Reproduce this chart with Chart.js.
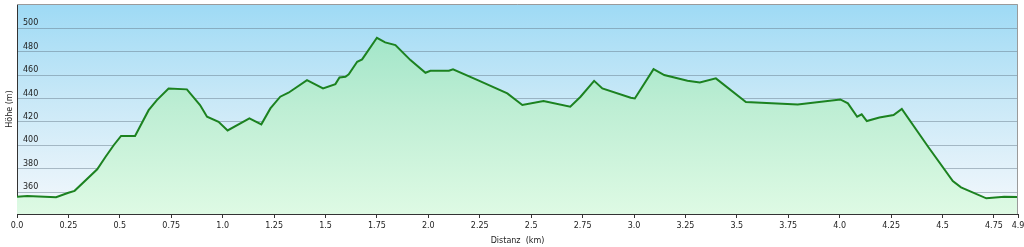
<!DOCTYPE html>
<html>
<head>
<meta charset="utf-8">
<script src="https://cdn.jsdelivr.net/npm/chart.js@4"></script>
<style>
  html, body { margin: 0; padding: 0; background: #fff; }
  #wrap { width: 1024px; height: 247px; }
</style>
</head>
<body>
<div id="wrap"><canvas id="perfil"></canvas></div>
<script>
// --- Datos ---
const distanciaKm = [0, 0.05, 0.19, 0.25, 0.28, 0.39, 0.43, 0.47, 0.506, 0.574, 0.64, 0.68, 0.737, 0.826,
  0.89, 0.924, 0.98, 1.024, 1.13, 1.188, 1.232, 1.28, 1.32, 1.41, 1.488, 1.548, 1.568, 1.597, 1.613,
  1.654, 1.678, 1.75, 1.79, 1.84, 1.913, 1.986, 2.01, 2.1, 2.12, 2.24, 2.384, 2.457, 2.56, 2.69, 2.74,
  2.806, 2.846, 2.984, 3.004, 3.095, 3.147, 3.26, 3.32, 3.398, 3.544, 3.796, 4.003, 4.04, 4.085, 4.107,
  4.132, 4.193, 4.262, 4.302, 4.43, 4.55, 4.59, 4.713, 4.8, 4.867];
const alturaM = [356, 356.6, 355.5, 359.4, 361, 379.4, 390, 400, 408, 408, 430, 438.6, 448.6, 447.8,
  434.4, 424.4, 420, 412.7, 423, 417.9, 431.5, 441.5, 444.9, 455.7, 448.6, 452.3, 458, 458.6, 460.6,
  471.4, 473.4, 491.9, 488, 485.6, 472.8, 462, 463.7, 463.7, 465, 455.7, 444.3, 434.4, 437.8, 432.9, 441.5,
  455.1, 448.6, 440.6, 440, 465.1, 460, 455.1, 453.7, 457.2, 436.9, 434.9, 439.2, 435.8, 424.4, 426.4,
  420.7, 423.8, 425.8, 431, 398.7, 369.4, 364, 354.6, 356, 355.7];
const xTicks = [0, 0.25, 0.5, 0.75, 1, 1.25, 1.5, 1.75, 2, 2.25, 2.5, 2.75, 3, 3.25, 3.5, 3.75, 4, 4.25, 4.5, 4.75, 4.867];
const xTickLabels = ['0.0', '0.25', '0.5', '0.75', '1.0', '1.25', '1.5', '1.75', '2.0', '2.25', '2.5', '2.75',
  '3.0', '3.25', '3.5', '3.75', '4.0', '4.25', '4.5', '4.75', '4.9'];
const yTicks = [360, 380, 400, 420, 440, 460, 480, 500];

const puntos = distanciaKm.map((d, i) => ({ x: d, y: alturaM[i] }));

// --- Fondo degradado y bordes ---
const fondoPlugin = {
  id: 'fondo',
  beforeDraw(chart) {
    const { ctx, chartArea: a } = chart;
    const g = ctx.createLinearGradient(0, a.top, 0, a.bottom);
    g.addColorStop(0, 'rgb(158,218,245)');
    g.addColorStop(0.45, 'rgb(200,232,247)');
    g.addColorStop(1, 'rgb(244,248,252)');
    ctx.save();
    ctx.fillStyle = g;
    ctx.fillRect(a.left, a.top, a.right - a.left, a.bottom - a.top);
    ctx.restore();
  },
  afterDraw(chart) {
    const { ctx, chartArea: a } = chart;
    ctx.save();
    ctx.strokeStyle = '#9a9a9a';
    ctx.lineWidth = 1;
    ctx.beginPath();
    ctx.moveTo(a.left, a.top + 0.5);
    ctx.lineTo(a.right - 0.5, a.top + 0.5);
    ctx.lineTo(a.right - 0.5, a.bottom);
    ctx.stroke();
    ctx.restore();
  }
};

function rellenoVerde(context) {
  const a = context.chart.chartArea;
  if (!a) return 'rgb(200,240,215)';
  const g = context.chart.ctx.createLinearGradient(0, a.top, 0, a.bottom);
  g.addColorStop(0, 'rgb(150,226,196)');
  g.addColorStop(0.5, 'rgb(190,238,212)');
  g.addColorStop(1, 'rgb(222,250,228)');
  return g;
}

const fuente = { family: 'DejaVu Sans', size: 8 };

new Chart(document.getElementById('perfil'), {
  type: 'line',
  data: {
    datasets: [{
      data: puntos,
      borderColor: 'rgb(28,130,32)',
      borderWidth: 2,
      backgroundColor: rellenoVerde,
      fill: 'start',
      pointRadius: 0,
      tension: 0
    }]
  },
  plugins: [fondoPlugin],
  options: {
    responsive: true,
    maintainAspectRatio: false,
    animation: false,
    layout: { padding: { top: 4, right: 6, left: 0, bottom: 0 } },
    plugins: { legend: { display: false }, tooltip: { enabled: false } },
    scales: {
      x: {
        type: 'linear',
        min: 0,
        max: 4.867,
        afterBuildTicks: s => { s.ticks = xTicks.map(v => ({ value: v })); },
        afterFit: s => { s.height = 33; s.paddingLeft = 0; s.paddingRight = 0; },
        ticks: {
          autoSkip: false,
          maxRotation: 0,
          padding: 3,
          color: '#222',
          font: fuente,
          callback: (v, i) => xTickLabels[i]
        },
        grid: { drawOnChartArea: false, drawTicks: true, tickLength: 4, color: '#333' },
        border: { color: '#333', width: 1 },
        title: { display: true, text: 'Distanz  (km)', color: '#222', font: fuente, padding: { top: 0, bottom: 1 } }
      },
      y: {
        min: 341.2,
        max: 520.8,
        z: 1,
        afterBuildTicks: s => { s.ticks = yTicks.map(v => ({ value: v })); },
        afterFit: s => { s.width = 17; s.paddingTop = 0; s.paddingBottom = 0; },
        ticks: {
          mirror: true,
          padding: 6,
          labelOffset: -5,
          color: '#222',
          font: fuente
        },
        grid: { drawTicks: false, color: 'rgba(95,115,130,0.45)', lineWidth: 1 },
        border: { color: '#333', width: 1 },
        title: { display: true, text: 'Höhe (m)', color: '#222', font: fuente, padding: { top: 5, bottom: 0 } }
      }
    }
  }
});
</script>
</body>
</html>
